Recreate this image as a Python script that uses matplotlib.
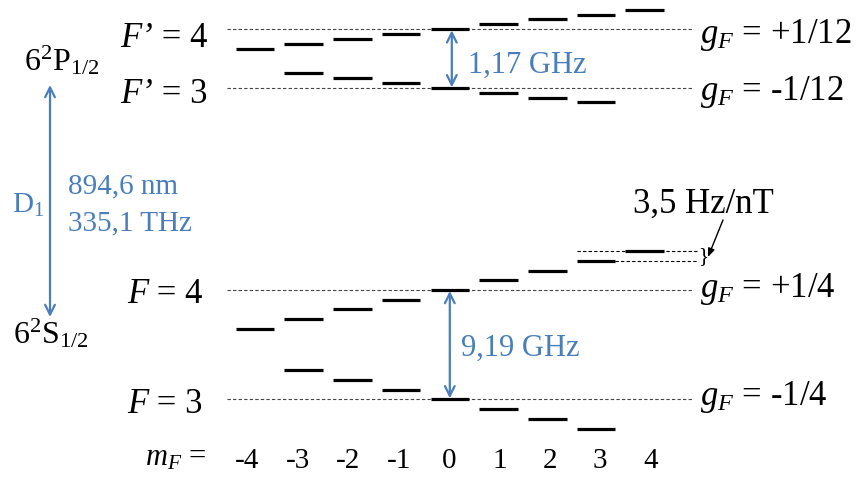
#!/usr/bin/env python3

import matplotlib
matplotlib.use("Agg")
import matplotlib.pyplot as plt

plt.rcParams["font.family"] = ["Liberation Serif", "DejaVu Serif"]
plt.rcParams["mathtext.fontset"] = "custom"
plt.rcParams["mathtext.rm"] = "Liberation Serif"
plt.rcParams["mathtext.it"] = "Liberation Serif:italic"

BLUE = "#4a7ebb"

# magnetic sublevels of the F=4 and F=3 manifolds
MF_4 = [-4, -3, -2, -1, 0, 1, 2, 3, 4]
MF_3 = [-3, -2, -1, 0, 1, 2, 3]

# level heights (diagram units, grow downwards)
Y_P4 = [49, 43.7, 39, 34, 29.3, 24.3, 19.3, 14.7, 9.7]
Y_P3 = [73, 78.3, 82.7, 88.3, 92.7, 97.7, 102.3]
Y_S4 = [329, 319.3, 309.3, 299.7, 290, 280.3, 270.7, 260.7, 250.7]
Y_S3 = [370, 380, 389.7, 399.3, 409.3, 419, 428.7]

HF_NAMES = ["F’", "F’", "F", "F"]
HF_VALUES = ["4", "3", "4", "3"]
GF_LABELS = ["+1/12", "-1/12", "+1/4", "-1/4"]
SPLITTINGS = ["1,17 GHz", "9,19 GHz"]
D1_TEXT = ["894,6 nm", "335,1 THz"]
ZEEMAN_TEXT = "3,5 Hz/nT"

# layout (pixels)
X0, DX, HALF = 449.8, 48.7, 19.3
LINE_X = (227, 692)


def xc(m):
    return X0 + DX * m


def main():
    fig = plt.figure(figsize=(8.64, 4.79), dpi=100)
    ax = fig.add_axes([0, 0, 1, 1])
    ax.set_xlim(0, 864)
    ax.set_ylim(479, 0)
    ax.axis("off")

    manifolds = [(MF_4, Y_P4), (MF_3, Y_P3), (MF_4, Y_S4), (MF_3, Y_S3)]
    label_base = [46.7, 103, 303, 413]
    label_x = [120, 120, 127, 127]
    gf_base = [43.3, 100, 297, 405]

    for i, (mf, ys) in enumerate(manifolds):
        y0 = ys[mf.index(0)]
        ax.plot(LINE_X, [y0, y0], color="#444444", lw=0.8,
                linestyle=(0, (3, 2)), zorder=1)
        ax.hlines(ys, [xc(m) - HALF for m in mf], [xc(m) + HALF for m in mf],
                  color="black", lw=2.3, zorder=3)
        t = ax.text(label_x[i], label_base[i], HF_NAMES[i], fontsize=25,
                    style="italic", ha="left", va="baseline")
        ax.annotate(" = " + HF_VALUES[i], xy=(1, 0), xycoords=t, fontsize=25,
                    ha="left", va="bottom")
        ax.text(700, gf_base[i], "$g_F$ = " + GF_LABELS[i], fontsize=25,
                ha="left", va="baseline")

    # Zeeman splitting bracket on the upper ground level
    ax.plot([xc(3) - HALF, 697], [Y_S4[-1], Y_S4[-1]], color="black", lw=0.8,
            linestyle=(0, (3, 2)), zorder=1)
    ax.plot([xc(3) + HALF, 697], [Y_S4[-2], Y_S4[-2]], color="black", lw=0.8,
            linestyle=(0, (3, 2)), zorder=1)
    ax.text(698, (Y_S4[-1] + Y_S4[-2]) / 2 + 1, "}", fontsize=15,
            ha="left", va="center")
    ax.annotate("", xy=(708, 257), xytext=(723, 220),
                arrowprops=dict(arrowstyle="-|>,head_length=0.5,head_width=0.2",
                                color="black", lw=1, shrinkA=0, shrinkB=0))
    ax.text(633, 213, ZEEMAN_TEXT, fontsize=25, ha="left", va="baseline")

    # hyperfine splittings
    blue_arrow = dict(arrowstyle="<->,head_length=0.7,head_width=0.35",
                      color=BLUE, lw=1.6, shrinkA=0, shrinkB=0)
    ax.annotate("", xy=(xc(0) + 2, Y_P4[4] + 1), xytext=(xc(0) + 2, Y_P3[3] - 1),
                arrowprops=blue_arrow)
    ax.text(468, 72.7, SPLITTINGS[0], fontsize=22, color=BLUE,
            ha="left", va="baseline")
    ax.annotate("", xy=(xc(0), Y_S4[4] + 1), xytext=(xc(0), Y_S3[3] - 1),
                arrowprops=blue_arrow)
    ax.text(461, 356, SPLITTINGS[1], fontsize=22, color=BLUE,
            ha="left", va="baseline")

    # D1 line
    ax.annotate("", xy=(50, 85), xytext=(50, 317), arrowprops=blue_arrow)
    ax.text(12, 213, "D$_1$", fontsize=21, color=BLUE, ha="left", va="baseline")
    ax.text(68, 193, D1_TEXT[0], fontsize=21, color=BLUE, ha="left", va="baseline")
    ax.text(68, 230, D1_TEXT[1], fontsize=21, color=BLUE, ha="left", va="baseline")

    ax.text(24, 70, r"$6^2\mathrm{P}_{1/2}$", fontsize=23, ha="left", va="baseline")
    ax.text(13, 343, r"$6^2\mathrm{S}_{1/2}$", fontsize=23, ha="left", va="baseline")

    # m_F axis
    ax.text(145, 466, "$m_F$ =", fontsize=22, ha="left", va="baseline")
    for m in MF_4:
        ax.text(449 + 50.4 * m, 468, str(m), fontsize=21, ha="center",
                va="baseline")

    fig.savefig("out.png", dpi=100)


if __name__ == "__main__":
    main()
